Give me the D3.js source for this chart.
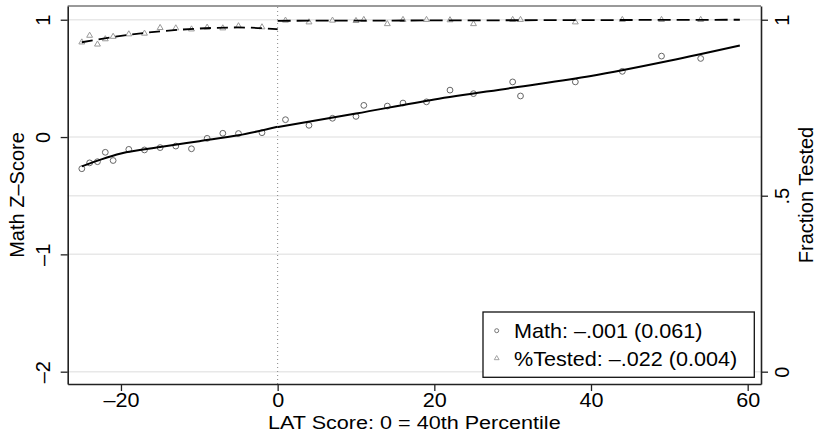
<!DOCTYPE html>
<html>
<head>
<meta charset="utf-8">
<script src="https://cdn.jsdelivr.net/npm/d3@7"></script>
<style>
  html, body { margin: 0; padding: 0; background: #fff; }
  svg { display: block; font-family: "Liberation Sans", Arial, Helvetica, sans-serif; }
</style>
</head>
<body>
<svg id="chart" width="816" height="433"></svg>
<script>
// ---- data ----
const latScore = [-25,-24,-23,-22,-21,-19,-17,-15,-13,-11,-9,-7,-5,-2,1,4,7,10,11,14,16,19,22,25,30,31,38,44,49,54];
const mathZ = [-0.27,-0.22,-0.21,-0.13,-0.20,-0.105,-0.11,-0.09,-0.077,-0.10,-0.011,0.032,0.03,0.037,0.148,0.10,0.16,0.176,0.27,0.264,0.29,0.30,0.40,0.37,0.47,0.35,0.47,0.56,0.69,0.67];
const fracTested = [0.936,0.955,0.930,0.945,0.952,0.959,0.961,0.977,0.976,0.973,0.978,0.976,0.982,0.979,0.998,0.993,0.998,0.997,1.0,0.988,1.0,1.0,0.999,0.988,1.0,1.0,0.993,1.0,1.0,1.0];

// fitted curves (read at several points)
const mathFitLeftX = [-25,-22.5,-20,-15,-10,-5,0];
const mathFitLeftY = [-0.25,-0.19,-0.14,-0.085,-0.035,0.015,0.088];
const mathFitRightX = [0,10,20,30,40,50,59];
const mathFitRightY = [0.085,0.2,0.32,0.42,0.52,0.65,0.78];
const testFitLeftX = [-25,-20,-15,-10,-5,0];
const testFitLeftY = [0.936,0.954,0.967,0.975,0.978,0.973];
const testFitRightX = [0,20,40,59];
const testFitRightY = [0.997,0.998,0.999,1.0];

const xTicks = [-20,0,20,40,60];
const yLeftTicks = [-2,-1,0,1];
const yRightTicks = [0,0.5,1];
const yRightLabels = ["0",".5","1"];
const legendLabels = ["Math: \u2013.001 (0.061)", "%Tested: \u2013.022 (0.004)"];
const xTitle = "LAT Score: 0 = 40th Percentile";
const yLeftTitle = "Math Z\u2013Score";
const yRightTitle = "Fraction Tested";

// ---- layout ----
const L = 67.7, R = 761, T = 6, B = 384;
const SX = 1.08; // horizontal stretch of horizontal text
const svg = d3.select("#chart");

const x = d3.scaleLinear().domain([-26.8, 61.7]).range([L, R]);
const yL = d3.scaleLinear().domain([-2.105, 1.117]).range([B, T]);
const yR = d3.scaleLinear().domain([-0.035, 1.039]).range([B, T]);

const fmtMinus = v => (v < 0 ? "\u2013" + Math.abs(v) : String(v));

// gridlines
const gridG = svg.append("g");
yLeftTicks.forEach(v => {
  gridG.append("line").attr("x1", L).attr("x2", R).attr("y1", yL(v)).attr("y2", yL(v))
    .attr("stroke", "#e8e8e8").attr("stroke-width", 1.5);
});
gridG.append("line").attr("x1", L).attr("x2", R).attr("y1", yR(0.5)).attr("y2", yR(0.5))
  .attr("stroke", "#e8e8e8").attr("stroke-width", 1.5);

// top border
svg.append("line").attr("x1", L).attr("x2", R).attr("y1", T).attr("y2", T)
  .attr("stroke", "#777").attr("stroke-width", 1.5);

// vertical dotted line at 0
svg.append("line").attr("x1", x(0)).attr("x2", x(0)).attr("y1", T + 1).attr("y2", B)
  .attr("stroke", "#888").attr("stroke-width", 1).attr("stroke-dasharray", "1,3");

// axes
const axBottom = svg.append("g").attr("transform", `translate(0,${B})`)
  .call(d3.axisBottom(x).tickValues(xTicks).tickSize(7).tickSizeOuter(0).tickFormat(fmtMinus));
axBottom.select(".domain").attr("stroke", "#222").attr("stroke-width", 1.6);
axBottom.selectAll(".tick line").attr("stroke", "#222").attr("stroke-width", 1.3);
axBottom.selectAll(".tick text").attr("y", 23.3).attr("dy", 0)
  .attr("font-size", 20).attr("fill", "#000")
  .attr("font-family", "Liberation Sans, Arial, sans-serif")
  .attr("transform", `scale(${SX},1)`);

const axLeft = svg.append("g").attr("transform", `translate(${L},0)`)
  .call(d3.axisLeft(yL).tickValues(yLeftTicks).tickSize(7).tickSizeOuter(0).tickFormat(fmtMinus));
axLeft.select(".domain").attr("stroke", "#222").attr("stroke-width", 1.6);
axLeft.selectAll(".tick line").attr("stroke", "#222").attr("stroke-width", 1.3);
axLeft.selectAll(".tick text").attr("x", 0).attr("y", 0).attr("dy", 0)
  .attr("text-anchor", "middle").attr("font-size", 20).attr("fill", "#000")
  .attr("font-family", "Liberation Sans, Arial, sans-serif")
  .attr("transform", "translate(-17.7,0) rotate(-90)");

const axRight = svg.append("g").attr("transform", `translate(${R},0)`)
  .call(d3.axisRight(yR).tickValues(yRightTicks).tickSize(7).tickSizeOuter(0)
    .tickFormat((d, i) => yRightLabels[i]));
axRight.select(".domain").attr("stroke", "#222").attr("stroke-width", 1.6);
axRight.selectAll(".tick line").attr("stroke", "#222").attr("stroke-width", 1.3);
axRight.selectAll(".tick text").attr("x", 0).attr("y", 0).attr("dy", 0)
  .attr("text-anchor", "middle").attr("font-size", 20).attr("fill", "#000")
  .attr("font-family", "Liberation Sans, Arial, sans-serif")
  .attr("transform", "translate(28,0) rotate(-90)");

// axis titles
svg.append("text").attr("transform", `translate(${(L + R) / 2},428.8) scale(${SX * 20 / 19},1)`)
  .attr("text-anchor", "middle").attr("font-size", 19).text(xTitle);
svg.append("text").attr("transform", `translate(24,195) rotate(-90)`)
  .attr("text-anchor", "middle").attr("font-size", 20).text(yLeftTitle);
svg.append("text").attr("transform", `translate(813,195) rotate(-90)`)
  .attr("text-anchor", "middle").attr("font-size", 20).text(yRightTitle);

// markers
const triSym = d3.symbol().type(d3.symbolTriangle).size(15);
svg.append("g").selectAll("path").data(latScore).join("path")
  .attr("d", triSym)
  .attr("transform", (d, i) => `translate(${x(d)},${yR(fracTested[i])})`)
  .attr("fill", "none").attr("stroke", "#999").attr("stroke-width", 1);

svg.append("g").selectAll("circle").data(latScore).join("circle")
  .attr("cx", d => x(d)).attr("cy", (d, i) => yL(mathZ[i])).attr("r", 2.9)
  .attr("fill", "none").attr("stroke", "#666").attr("stroke-width", 1);

// fitted lines
const lineL = d3.line().x(d => x(d[0])).y(d => yL(d[1])).curve(d3.curveMonotoneX);
const lineR = d3.line().x(d => x(d[0])).y(d => yR(d[1])).curve(d3.curveMonotoneX);
const zip = (a, b) => a.map((v, i) => [v, b[i]]);

svg.append("path").datum(zip(testFitLeftX, testFitLeftY)).attr("d", lineR)
  .attr("fill", "none").attr("stroke", "#000").attr("stroke-width", 1.8).attr("stroke-dasharray", "11,6");
svg.append("path").datum(zip(testFitRightX, testFitRightY)).attr("d", lineR)
  .attr("fill", "none").attr("stroke", "#000").attr("stroke-width", 1.8).attr("stroke-dasharray", "13,6");
svg.append("path").datum(zip(mathFitLeftX, mathFitLeftY)).attr("d", lineL)
  .attr("fill", "none").attr("stroke", "#000").attr("stroke-width", 2);
svg.append("path").datum(zip(mathFitRightX, mathFitRightY)).attr("d", lineL)
  .attr("fill", "none").attr("stroke", "#000").attr("stroke-width", 2);

// legend
const lg = svg.append("g");
lg.append("rect").attr("x", 483).attr("y", 312).attr("width", 271.3).attr("height", 65.3)
  .attr("fill", "#fff").attr("stroke", "#111").attr("stroke-width", 1.3);
lg.append("circle").attr("cx", 496.7).attr("cy", 330.7).attr("r", 2)
  .attr("fill", "none").attr("stroke", "#666").attr("stroke-width", 0.9);
lg.append("path").attr("d", d3.symbol().type(d3.symbolTriangle).size(10))
  .attr("transform", "translate(496.7,358.3)")
  .attr("fill", "none").attr("stroke", "#999").attr("stroke-width", 0.9);
lg.append("text").attr("transform", `translate(514,338.3) scale(${SX},1)`)
  .attr("font-size", 20).text(legendLabels[0]);
lg.append("text").attr("transform", `translate(514,366.3) scale(${SX},1)`)
  .attr("font-size", 20).text(legendLabels[1]);
</script>
</body>
</html>
